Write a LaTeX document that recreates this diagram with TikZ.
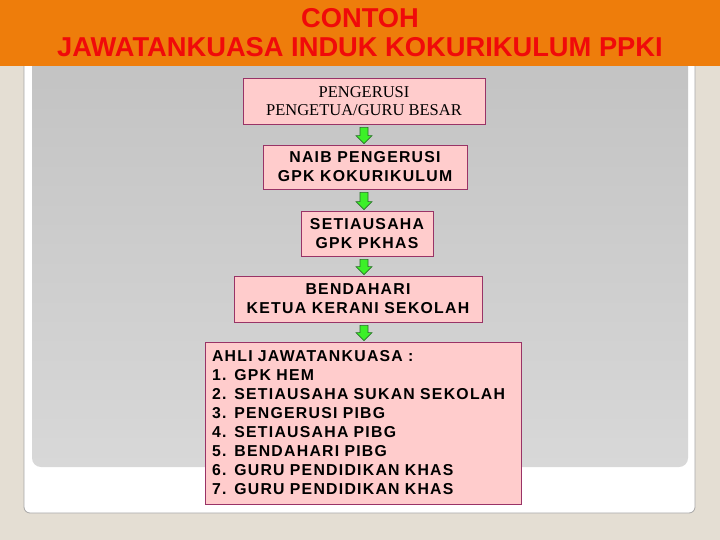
\documentclass[tikz,border=0pt]{standalone}
\usepackage{fontspec}
\setmainfont{Liberation Sans}
\newfontfamily\spfont[LetterSpace=8]{Liberation Sans}
\newfontfamily\serfont{Liberation Serif}
\usetikzlibrary{calc}
\definecolor{beige}{RGB}{228,222,211}
\definecolor{hdorange}{RGB}{238,125,11}
\definecolor{hdred}{RGB}{240,10,10}
\definecolor{boxfill}{RGB}{255,204,204}
\definecolor{boxline}{RGB}{153,51,102}
\definecolor{argreen}{RGB}{60,240,40}
\definecolor{ardark}{RGB}{40,110,40}
\definecolor{grayA}{RGB}{194,194,194}
\definecolor{grayB}{RGB}{216,216,216}
\newcommand\blockarr[2]{%
  \path[barrow] let \p1=(#1.south -| ax), \p2=(#2.north -| ax) in
   (\x1-4pt,\y1-3pt) -- (\x1+4pt,\y1-3pt) -- (\x1+4pt,\y2+9pt) -- (\x1+8pt,\y2+9pt)
   -- (\x1,\y2+1pt) -- (\x1-8pt,\y2+9pt) -- (\x1-4pt,\y2+9pt) -- cycle;}
\begin{document}
\begin{tikzpicture}[x=1pt,y=-1pt,
  box/.style={draw=boxline, fill=boxfill, line width=0.8pt, inner sep=0pt, align=center, text=black},
  sptext/.style={font=\spfont\bfseries\fontsize{15.8}{19}\selectfont},
  barrow/.style={fill=argreen, draw=ardark, line width=0.6pt}]
\useasboundingbox (0,0) rectangle (720,540);
\fill[beige] (0,0) rectangle (720,540);
% white panel
\fill[white, rounded corners=6pt] (24,40) rectangle (695,513);
\draw[gray!70, line width=0.8pt, rounded corners=6pt] (24,40) -- (24,513) -- (695,513) -- (695,40);
% gray panel
\shade[top color=grayA, bottom color=grayB, rounded corners=9pt] (32,40) rectangle (688,467);
% header
\fill[hdorange] (0,0) rectangle (720,66);
\node[font=\bfseries\fontsize{27.3}{29}\selectfont, text=hdred, align=center, inner sep=0pt] (title) at (360,33)
  {CONTOH\\JAWATANKUASA INDUK KOKURIKULUM PPKI};
\coordinate (ax) at (364,0);
% boxes
\node[box, minimum width=242pt, minimum height=46pt, font=\serfont\fontsize{16.5}{18}\selectfont] (p1) at (364,101)
  {PENGERUSI\\PENGETUA/GURU BESAR};
\node[box, sptext, minimum width=204pt, minimum height=44pt] (p2) at (365,167)
  {NAIB PENGERUSI\\GPK KOKURIKULUM};
\node[box, sptext, minimum width=132pt, minimum height=45pt] (p3) at (367,233.5)
  {SETIAUSAHA\\GPK PKHAS};
\node[box, sptext, minimum width=248pt, minimum height=46pt] (p4) at (358,299)
  {BENDAHARI\\KETUA KERANI SEKOLAH};
\node[box, sptext, minimum width=316pt, minimum height=162pt, text width=302pt, inner xsep=7pt, align=left] (p5) at (363,423)
  {AHLI JAWATANKUASA :\\
   1. GPK HEM\\
   2. SETIAUSAHA SUKAN SEKOLAH\\
   3. PENGERUSI PIBG\\
   4. SETIAUSAHA PIBG\\
   5. BENDAHARI PIBG\\
   6. GURU PENDIDIKAN KHAS\\
   7. GURU PENDIDIKAN KHAS};
% arrows
\blockarr{p1}{p2}
\blockarr{p2}{p3}
\blockarr{p3}{p4}
\blockarr{p4}{p5}
\end{tikzpicture}
\end{document}
